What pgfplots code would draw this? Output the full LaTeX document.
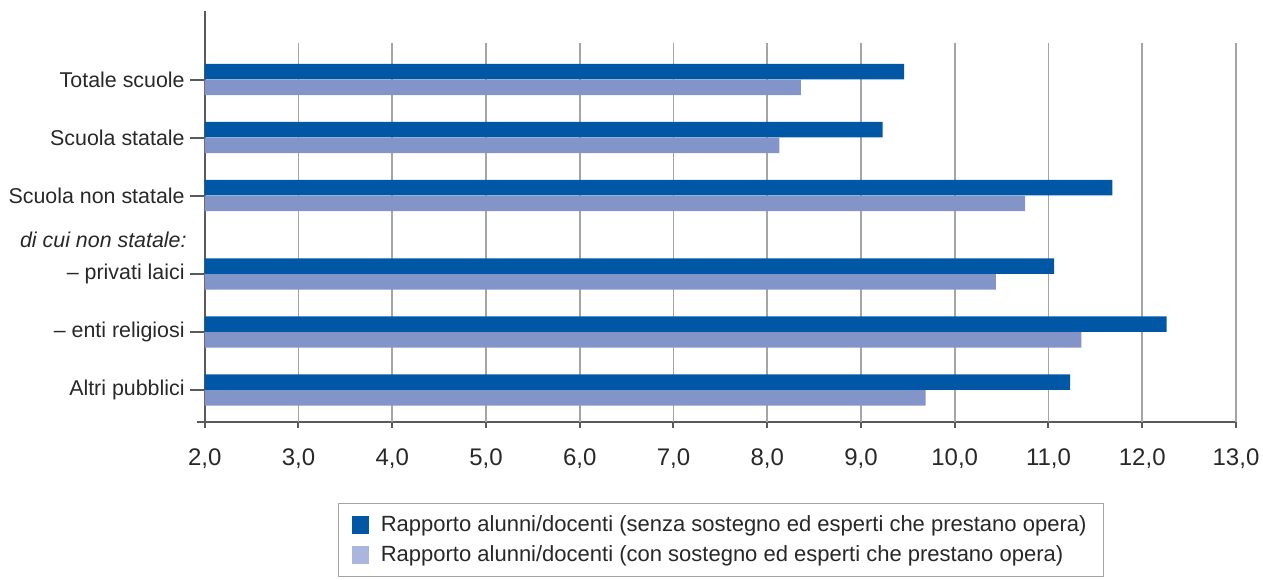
\documentclass[border=0pt]{standalone}
\usepackage{fontspec}
\setmainfont{Liberation Sans}
\usepackage{pgfplots}
\pgfplotsset{compat=1.18}
\definecolor{darkbar}{RGB}{0,87,165}
\definecolor{lightbar}{RGB}{130,148,200}
\definecolor{lightleg}{RGB}{170,182,222}
\definecolor{axiscol}{RGB}{90,90,90}
\definecolor{gridcol}{RGB}{165,165,165}
\definecolor{txtcol}{RGB}{40,40,40}
\begin{document}
\begin{tikzpicture}
\begin{axis}[
  at={(0pt,0pt)}, anchor=south west,
  scale only axis, width=515.65pt, height=205.5pt,
  xmin=2, xmax=13, ymin=-1.181, ymax=5.905, y dir=reverse,
  axis x line*=bottom, axis y line*=left,
  axis line style={axiscol, line width=1pt, -},
  xtick={2,3,...,13},
  x tick style={draw=none},
  xticklabel style={font=\fontsize{12}{14}\selectfont, text=txtcol, yshift=-6pt},
  /pgf/number format/.cd, fixed, fixed zerofill, precision=1, use comma, assume math mode=true,
  /pgfplots/.cd,
  ytick={0,1,2,3.353,4.353,5.353},
  yticklabels={Totale scuole, Scuola statale, Scuola non statale, -- privati laici, -- enti religiosi, Altri pubblici},
  yticklabel style={font=\fontsize{10.7}{13}\selectfont, text=txtcol, xshift=1pt},
  extra y ticks={2.767},
  extra y tick labels={\textit{di cui non statale:}},
  extra y tick style={major tick length=0pt, yticklabel style={font=\fontsize{10.7}{13}\selectfont\itshape, text=txtcol, xshift=-6.5pt}},
  y tick style={axiscol, line width=1pt},
  tick align=center, major tick length=7.5pt,
  xbar, bar width=0.267,
  clip=false,
  legend style={at={(axis description cs:0.1293,-0.197)}, anchor=north west,
    draw=gridcol, line width=0.6pt, font=\fontsize{11}{13}\selectfont, text=txtcol,
    inner xsep=6.5pt, inner ysep=4pt, row sep=1.5pt,
    /tikz/every odd column/.append style={column sep=4pt}},
  legend cell align=left,
]
\pgfplotsinvokeforeach{3,...,13}{
  \draw[gridcol, line width=0.8pt] (axis cs:#1,-0.63) -- (axis cs:#1,5.905);
}
\pgfplotsinvokeforeach{2,...,13}{
  \draw[axiscol, line width=1pt] (axis cs:#1,5.905) -- ([yshift=-3pt]axis cs:#1,5.905);
}
\draw[axiscol, line width=1pt] (axis cs:2,5.905) -- ([xshift=-4pt]axis cs:2,5.905);
\addplot[forget plot, draw=none, fill=darkbar, bar shift=-0.134] coordinates {
  (9.46,0) (9.23,1) (11.68,2) (11.06,3.353) (12.26,4.353) (11.23,5.353)};
\addplot[forget plot, draw=none, fill=lightbar, bar shift=0.134] coordinates {
  (8.36,0) (8.13,1) (10.75,2) (10.44,3.353) (11.35,4.353) (9.69,5.353)};
\addlegendimage{legend image code/.code={\fill[darkbar] (0pt,-4pt) rectangle (8pt,4pt);}}
\addlegendentry{Rapporto alunni/docenti (senza sostegno ed esperti che prestano opera)}
\addlegendimage{legend image code/.code={\fill[lightleg] (0pt,-4pt) rectangle (8pt,4pt);}}
\addlegendentry{Rapporto alunni/docenti (con sostegno ed esperti che prestano opera)}
\end{axis}
\pgfresetboundingbox
\path (-102.35pt,211pt) rectangle (529.15pt,-78.5pt);
\end{tikzpicture}
\end{document}
